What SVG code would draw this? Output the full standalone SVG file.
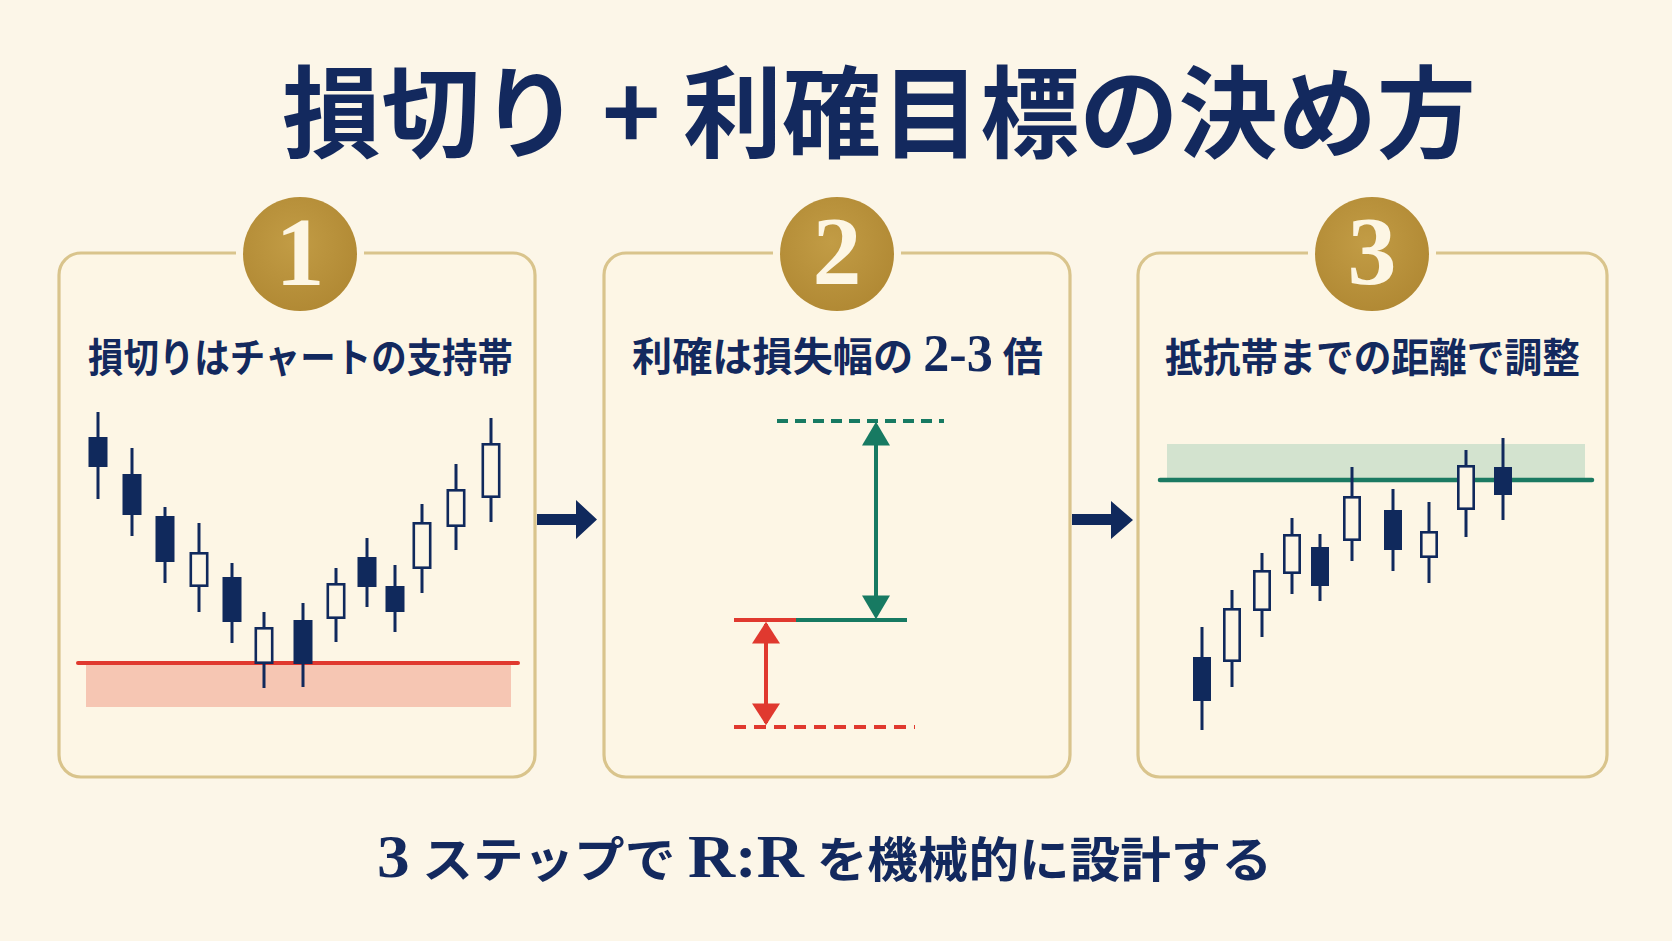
<svg xmlns="http://www.w3.org/2000/svg" width="1672" height="941" viewBox="0 0 1672 941">
<defs>
<style>
.bg{fill:#fcf6e8}
.boxfill{fill:#fdf6e5}
.boxline{fill:none;stroke:#d9c48c;stroke-width:3.2}
.badge{fill:url(#gold)}
.num{font-family:'Liberation Serif',serif;font-weight:700;font-size:98px;fill:#fdf6e4;text-anchor:middle}
.head{font-family:'Liberation Serif','Noto Sans CJK JP',serif;font-weight:700;font-size:40px;fill:#13295e}
.title{font-family:'Noto Sans CJK JP',sans-serif;font-weight:700;font-size:100px;fill:#13295e}
.foot{font-family:'Liberation Serif','Noto Sans CJK JP',serif;font-weight:700;font-size:48px;fill:#13295e}
.wick{stroke:#10295c;stroke-width:3}
.cf{fill:#10295c}
.ch{fill:#fdf6e5;stroke:#10295c;stroke-width:2.6}
.navy{fill:#10295c}
.g{stroke:#177a62;stroke-width:4;fill:none}
.r{stroke:#e0392f;stroke-width:4;fill:none}
</style>
<radialGradient id="gold" cx="45%" cy="40%" r="65%">
<stop offset="0" stop-color="#c29c45"/>
<stop offset="1" stop-color="#b08833"/>
</radialGradient>
<marker id="ag" markerUnits="userSpaceOnUse" markerWidth="24" markerHeight="28" refX="19" refY="13" orient="auto-start-reverse" viewBox="0 0 22 26">
<path d="M0,0 L22,13 L0,26 Z" fill="#177a62"/>
</marker>
<marker id="ar" markerUnits="userSpaceOnUse" markerWidth="24" markerHeight="28" refX="18" refY="13" orient="auto-start-reverse" viewBox="0 0 20 26">
<path d="M0,0 L20,13 L0,26 Z" fill="#e0392f"/>
</marker>
</defs>
<rect class="bg" x="0" y="0" width="1672" height="941"/>

<g id="title">
<text class="title" x="282" y="150" textLength="1194" lengthAdjust="spacingAndGlyphs">損切り + 利確目標の決め方</text>
</g>

<g id="step1">
<rect class="boxfill" x="59" y="253" width="476" height="524" rx="22"/>
<path class="boxline" d="M364,253 H513 A22,22 0 0 1 535,275 V755 A22,22 0 0 1 513,777 H81 A22,22 0 0 1 59,755 V275 A22,22 0 0 1 81,253 H236"/>
<circle class="badge" cx="300" cy="254" r="57"/>
<text class="num" x="300" y="285">1</text>
<text class="head" x="88" y="372" textLength="425" lengthAdjust="spacingAndGlyphs">損切りはチャートの支持帯</text>
<rect x="86" y="665" width="425" height="42" fill="#f6c6b3"/>
<line x1="78" y1="663" x2="518" y2="663" stroke="#e0392f" stroke-width="4" stroke-linecap="round"/>
<g>
<line class="wick" x1="98" y1="412" x2="98" y2="499"/><rect class="cf" x="88.5" y="437" width="19" height="30"/>
<line class="wick" x1="132" y1="448" x2="132" y2="536"/><rect class="cf" x="122.5" y="474" width="19" height="41"/>
<line class="wick" x1="165" y1="507" x2="165" y2="583"/><rect class="cf" x="155.5" y="516" width="19" height="46"/>
<line class="wick" x1="199" y1="523" x2="199" y2="612"/><rect class="ch" x="190.8" y="553.3" width="16.4" height="32.4"/>
<line class="wick" x1="232" y1="563" x2="232" y2="643"/><rect class="cf" x="222.5" y="577" width="19" height="45"/>
<line class="wick" x1="264" y1="612" x2="264" y2="688"/><rect class="ch" x="255.8" y="628.3" width="16.4" height="34.4"/>
<line class="wick" x1="303" y1="603" x2="303" y2="687"/><rect class="cf" x="293.5" y="620" width="19" height="44"/>
<line class="wick" x1="336" y1="568" x2="336" y2="642"/><rect class="ch" x="327.8" y="584.3" width="16.4" height="33.4"/>
<line class="wick" x1="367" y1="538" x2="367" y2="607"/><rect class="cf" x="357.5" y="557" width="19" height="30"/>
<line class="wick" x1="395" y1="565" x2="395" y2="632"/><rect class="cf" x="385.5" y="586" width="19" height="26"/>
<line class="wick" x1="422" y1="504" x2="422" y2="593"/><rect class="ch" x="413.8" y="523.3" width="16.4" height="44.4"/>
<line class="wick" x1="456" y1="464" x2="456" y2="550"/><rect class="ch" x="447.8" y="490.3" width="16.4" height="35.4"/>
<line class="wick" x1="491" y1="418" x2="491" y2="522"/><rect class="ch" x="482.8" y="444.3" width="16.4" height="52.4"/>
</g>
</g>

<g id="step2">
<rect class="boxfill" x="604" y="253" width="466" height="524" rx="22"/>
<path class="boxline" d="M901,253 H1048 A22,22 0 0 1 1070,275 V755 A22,22 0 0 1 1048,777 H626 A22,22 0 0 1 604,755 V275 A22,22 0 0 1 626,253 H773"/>
<circle class="badge" cx="837" cy="254" r="57"/>
<text class="num" x="837" y="284">2</text>
<text class="head" x="632" y="371" textLength="411" lengthAdjust="spacingAndGlyphs">利確は損失幅の <tspan font-size="52">2-3</tspan> 倍</text>
<line class="g" x1="777" y1="421" x2="944" y2="421" stroke-width="3" stroke-dasharray="11 7"/>
<line class="r" x1="734" y1="727" x2="915" y2="727" stroke-width="3" stroke-dasharray="12 8"/>
<line class="r" x1="734" y1="620" x2="797" y2="620"/>
<line class="g" x1="796" y1="620" x2="907" y2="620"/>
<line class="g" x1="876" y1="425" x2="876" y2="616" marker-start="url(#ag)" marker-end="url(#ag)"/>
<line class="r" x1="766" y1="624" x2="766" y2="723" marker-start="url(#ar)" marker-end="url(#ar)"/>
</g>

<g id="step3">
<rect class="boxfill" x="1138" y="253" width="469" height="524" rx="22"/>
<path class="boxline" d="M1436,253 H1585 A22,22 0 0 1 1607,275 V755 A22,22 0 0 1 1585,777 H1160 A22,22 0 0 1 1138,755 V275 A22,22 0 0 1 1160,253 H1308"/>
<circle class="badge" cx="1372" cy="254" r="57"/>
<text class="num" x="1372" y="284">3</text>
<text class="head" x="1165" y="372" textLength="415" lengthAdjust="spacingAndGlyphs">抵抗帯までの距離で調整</text>
<rect x="1167" y="444" width="418" height="34" fill="#d3e3cf"/>
<line x1="1160" y1="480" x2="1592" y2="480" stroke="#1b7a62" stroke-width="4.5" stroke-linecap="round"/>
<g>
<line class="wick" x1="1202" y1="627" x2="1202" y2="730"/><rect class="cf" x="1193" y="657" width="18" height="44"/>
<line class="wick" x1="1232" y1="590" x2="1232" y2="687"/><rect class="ch" x="1224.3" y="609.3" width="15.4" height="51.4"/>
<line class="wick" x1="1262" y1="553" x2="1262" y2="637"/><rect class="ch" x="1254.3" y="571.3" width="15.4" height="38.4"/>
<line class="wick" x1="1292" y1="518" x2="1292" y2="594"/><rect class="ch" x="1284.3" y="535.3" width="15.4" height="37.4"/>
<line class="wick" x1="1320" y1="534" x2="1320" y2="601"/><rect class="cf" x="1311" y="547" width="18" height="39"/>
<line class="wick" x1="1352" y1="467" x2="1352" y2="561"/><rect class="ch" x="1344.3" y="497.3" width="15.4" height="42.4"/>
<line class="wick" x1="1393" y1="489" x2="1393" y2="571"/><rect class="cf" x="1384" y="510" width="18" height="40"/>
<line class="wick" x1="1429" y1="502" x2="1429" y2="583"/><rect class="ch" x="1421.3" y="532.3" width="15.4" height="24.4"/>
<line class="wick" x1="1466" y1="450" x2="1466" y2="537"/><rect class="ch" x="1458.3" y="466.3" width="15.4" height="42.4"/>
<line class="wick" x1="1503" y1="438" x2="1503" y2="520"/><rect class="cf" x="1494" y="467" width="18" height="28"/>
</g>
</g>

<g id="connectors">
<path class="navy" d="M537,514 H576 V500 L597,519.5 L576,539 V525 H537 Z"/>
<path class="navy" d="M1072,514 H1111 V501 L1133,520 L1111,539 V525 H1072 Z"/>
</g>

<g id="footer">
<text class="foot" x="377" y="877" textLength="895" lengthAdjust="spacingAndGlyphs"><tspan font-size="62">3</tspan> ステップで <tspan font-size="62">R:R</tspan> を機械的に設計する</text>
</g>
</svg>
